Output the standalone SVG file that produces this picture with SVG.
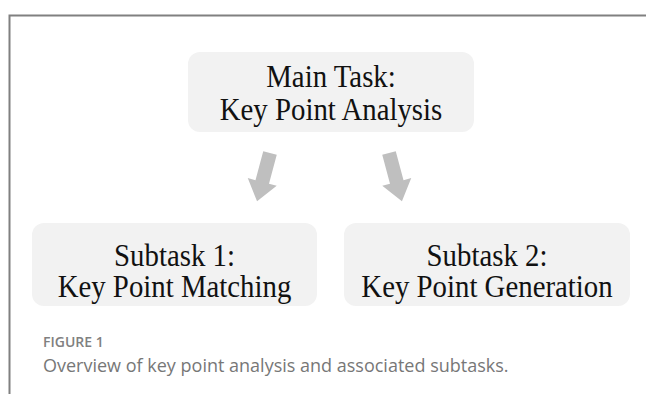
<svg xmlns="http://www.w3.org/2000/svg" width="646" height="394" viewBox="0 0 646 394">
<style>
.box{fill:#f2f2f2;}
.t{font-family:"Liberation Serif","Times New Roman",serif;font-size:31px;fill:#111;text-anchor:middle;}
.arrow{fill:#bfbfbf;}
.cap1{font-family:"Open Sans","Noto Sans",sans-serif;font-size:14px;fill:#808080;font-weight:600;}
.cap2{font-family:"Open Sans","Noto Sans",sans-serif;font-size:18px;fill:#777;}
</style>
<defs>
<polygon id="arr" points="-7,0 7,0 7,30 15,30 0,50 -15,30 -7,30"/>
</defs>
<rect width="646" height="394" fill="#fff"/>
<path d="M9.5,394 V15.5 H646" fill="none" stroke="#808080" stroke-width="2"/>
<g id="main">
<rect class="box" x="188" y="52" width="286" height="80" rx="12"/>
<text class="t" transform="translate(331,87) scale(0.93,1)">Main Task:</text>
<text class="t" transform="translate(331,120) scale(0.93,1)">Key Point Analysis</text>
</g>
<g id="sub1">
<rect class="box" x="32" y="223" width="285" height="83" rx="12"/>
<text class="t" transform="translate(174.5,266) scale(0.93,1)">Subtask 1:</text>
<text class="t" transform="translate(174.5,297) scale(0.93,1)">Key Point Matching</text>
</g>
<g id="sub2">
<rect class="box" x="344" y="223" width="286" height="83" rx="12"/>
<text class="t" transform="translate(487,266) scale(0.93,1)">Subtask 2:</text>
<text class="t" transform="translate(487,297) scale(0.93,1)">Key Point Generation</text>
</g>
<g id="connectors">
<use href="#arr" class="arrow" transform="translate(270,153) rotate(15)"/>
<use href="#arr" class="arrow" transform="translate(389,153) rotate(-15)"/>
</g>
<g id="caption">
<text class="cap1" x="43" y="347">FIGURE 1</text>
<text class="cap2" x="43" y="372">Overview of key point analysis and associated subtasks.</text>
</g>
</svg>
